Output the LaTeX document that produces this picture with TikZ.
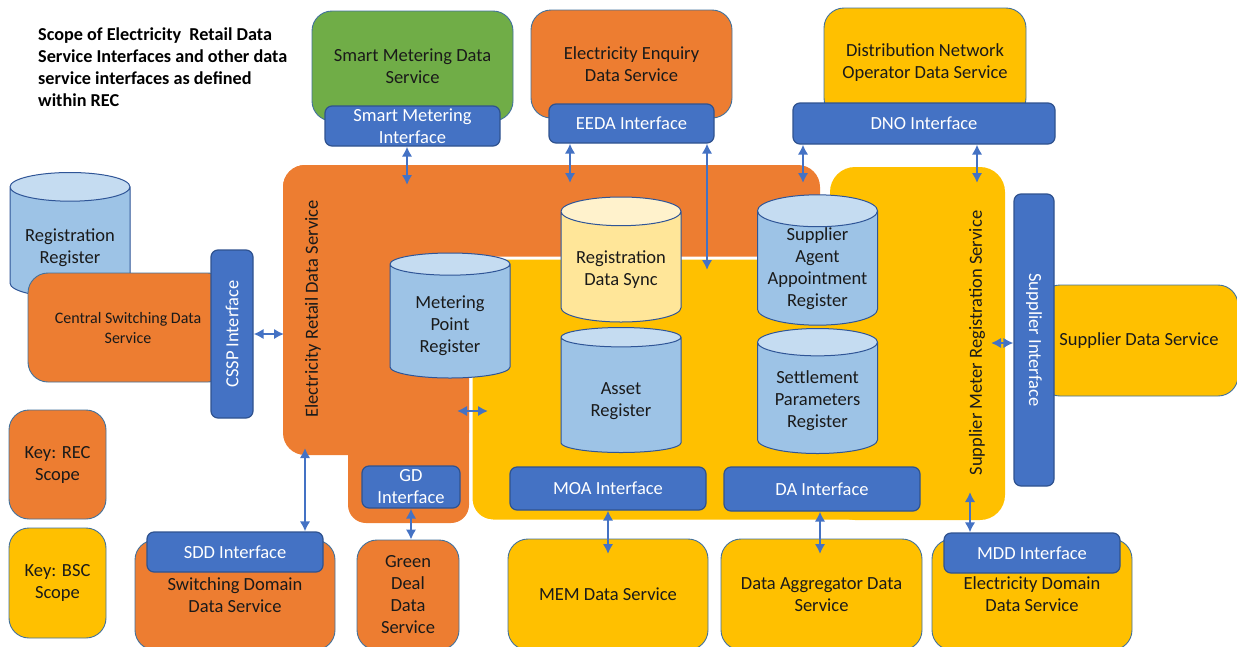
\documentclass[tikz,border=0pt]{standalone}
\usepackage{fontspec}
\setmainfont{Carlito}
\usetikzlibrary{shapes,arrows,arrows.meta,calc,positioning}
\definecolor{recorange}{HTML}{ED7D31}
\definecolor{bscgold}{HTML}{FFC000}
\definecolor{smgreen}{HTML}{70AD47}
\definecolor{ifblue}{HTML}{4472C4}
\definecolor{ifline}{HTML}{2F528F}
\definecolor{svcline}{HTML}{41719C}
\definecolor{cylline}{HTML}{2F5597}
\definecolor{cylbody}{HTML}{9DC3E6}
\definecolor{cyltop}{HTML}{C5DCF1}
\definecolor{syncbody}{HTML}{FFE699}
\definecolor{synctop}{HTML}{FFF2CC}
\definecolor{txt}{HTML}{1A1A1A}
% push register text down into the body of the can
\newcommand{\regtop}[1][23pt]{\rule{0pt}{#1}}

\begin{document}
\begin{tikzpicture}[x=1pt, y=-1pt, >={Latex[length=10pt,width=10.5pt]}, font=\fontsize{18.5}{22}\selectfont,
  svc/.style={draw=svcline, line width=0.9pt, rounded corners=20pt, align=center, inner sep=0pt, text=txt},
  ifc/.style={draw=ifline, fill=ifblue, line width=1.2pt, rounded corners=7pt, align=center, inner sep=0pt, text=white},
  reg/.style={cylinder, shape border rotate=90, aspect=0.32, draw=cylline, line width=1pt,
    cylinder uses custom fill, cylinder body fill=cylbody, cylinder end fill=cyltop,
    minimum width=120pt, minimum height=125pt, align=center, inner sep=0pt, text=txt, anchor=shape center},
  link/.style={<->, draw=ifblue, line width=2.6pt}]

\useasboundingbox (0,0) rectangle (1237,646);
\clip (0,0) rectangle (1237,646);

\node[anchor=north west, align=left, inner sep=0pt, font=\fontsize{18.2}{22}\selectfont\bfseries] at (38,28) (title)
  {Scope of Electricity\ \ Retail Data\\Service Interfaces and other data\\service interfaces as defined\\within REC};

% CSS side
\node[reg] at (70,235) (rr) {\regtop Registration\\Register};
\node[svc, fill=recorange, minimum width=200pt, minimum height=109pt, font=\fontsize{16}{20}\selectfont] at (128,327.5) (csds) {Central Switching Data\\Service};
\node[ifc, minimum width=42pt, minimum height=168pt] at (232,334) (cssp) {\rotatebox{90}{CSSP Interface}};

% keys
\node[svc, fill=recorange, minimum width=97pt, minimum height=109pt] at (57.5,464.5) (keyrec) {Key: REC\\Scope};
\node[svc, fill=bscgold, minimum width=97pt, minimum height=110pt] at (57.5,583) (keybsc) {Key: BSC\\Scope};

% REC and BSC areas
\fill[recorange, rounded corners=22pt] (283,165) rectangle (469,455);
\fill[recorange, rounded corners=22pt] (283,165) rectangle (820,290);
\fill[recorange, rounded corners=18pt] (348,300) rectangle (469,523);
\filldraw[fill=bscgold, draw=white, line width=3pt, rounded corners=22pt] (471,258) rectangle (920,521);
\fill[bscgold, rounded corners=25pt] (830,167) rectangle (1005,520);

\node[rotate=90, text=txt] at (313,309) (erds) {Electricity Retail Data Service};
\node[rotate=90, text=txt] at (977,343) (smrs) {Supplier Meter Registration Service};

% registers
\node[reg] at (450,315.5) (mpr) {\regtop[21pt]Metering\\Point\\Register};
\node[reg, cylinder body fill=syncbody, cylinder end fill=synctop] at (621,259.5) (rds) {\regtop[19pt]Registration\\Data Sync};
\node[reg] at (621,390) (ar) {\regtop Asset\\Register};
\node[reg] at (817.5,260) (saar) {Supplier\\Agent\\Appointment\\Register};
\node[reg] at (817.5,391) (spr) {\regtop[18pt]Settlement\\Parameters\\Register};

\node[ifc, minimum width=196pt, minimum height=43pt] at (608,488.5) (moai) {MOA Interface};
\node[ifc, minimum width=196pt, minimum height=44pt] at (822,489) (dai) {DA Interface};
\node[ifc, minimum width=98pt, minimum height=42pt] at (411,487) (gdi) {GD\\Interface};

% top services
\node[svc, fill=smgreen, minimum width=201pt, minimum height=110pt] at (412.5,66) (smds) {Smart Metering Data\\Service};
\node[ifc, minimum width=175pt, minimum height=40pt] at (412.5,126) (smi) {Smart Metering\\Interface};
\node[svc, fill=recorange, minimum width=201pt, minimum height=108pt] at (631.5,64) (eeds) {Electricity Enquiry\\Data Service};
\node[ifc, minimum width=165pt, minimum height=39pt] at (631.5,123.5) (eedai) {EEDA Interface};
\node[svc, fill=bscgold, minimum width=202pt, minimum height=110pt] at (925,63) (dnods) {Distribution Network\\Operator Data Service};
\node[ifc, minimum width=262pt, minimum height=41pt] at (924,123.5) (dnoi) {DNO Interface};

% supplier
\node[svc, fill=bscgold, minimum width=198pt, minimum height=111pt] at (1139,340.5) (sds) {Supplier Data Service};
\node[ifc, minimum width=40pt, minimum height=292pt] at (1034,340) (supi) {\rotatebox{-90}{Supplier Interface}};

% bottom services
\node[svc, fill=recorange, minimum width=200pt, minimum height=110pt] at (235,595) (swdds) {Switching Domain\\Data Service};
\node[ifc, minimum width=176pt, minimum height=40pt] at (235,552) (sddi) {SDD Interface};
\node[svc, fill=recorange, minimum width=102pt, minimum height=110pt] at (408,595) (gdds) {Green\\Deal\\Data\\Service};
\node[svc, fill=bscgold, minimum width=200pt, minimum height=111pt] at (608,594.5) (memds) {MEM Data Service};
\node[svc, fill=bscgold, minimum width=201pt, minimum height=111pt] at (821.5,594.5) (dagds) {Data Aggregator Data\\Service};
\node[svc, fill=bscgold, minimum width=200pt, minimum height=111pt] at (1032,594.5) (elds) {Electricity Domain\\Data Service};
\node[ifc, minimum width=176pt, minimum height=40pt] at (1032,553) (mddi) {MDD Interface};

% arrow ends inside the areas
\coordinate (smT) at (407,185);
\coordinate (eeT) at (570,183);
\coordinate (eeB) at (707,270);
\coordinate (dnT) at (803,183);
\coordinate (smrsT) at (977,183);
\coordinate (erdsL) at (284,334);
\coordinate (erdsR) at (457,411);
\coordinate (bscL) at (488,411);
\coordinate (smrsR) at (991,343);
\coordinate (erdsB) at (305,448);
\coordinate (memT) at (608,554);
\coordinate (dagT) at (820,554);
\coordinate (smrsB) at (970,492);

\draw[link] (smi.south -| smT) -- (smT);
\draw[link] (eedai.south -| eeT) -- (eeT);
\draw[link] (eedai.south -| eeB) -- (eeB);
\draw[link] (dnoi.south -| dnT) -- (dnT);
\draw[link] (dnoi.south -| smrsT) -- (smrsT);
\draw[link] (cssp.east) -- (erdsL);
\draw[link] (erdsR) -- (bscL);
\draw[link] (smrsR) -- (smrsR -| supi.west);
\draw[link] (sddi.north -| erdsB) -- (erdsB);
\draw[link] (gdi.south) -- (gdi.south |- gdds.north);
\draw[link] (moai.south) -- (memT);
\draw[link] (dai.south -| dagT) -- (dagT);
\draw[link] (mddi.north -| smrsB) -- (smrsB);
\end{tikzpicture}
\end{document}
